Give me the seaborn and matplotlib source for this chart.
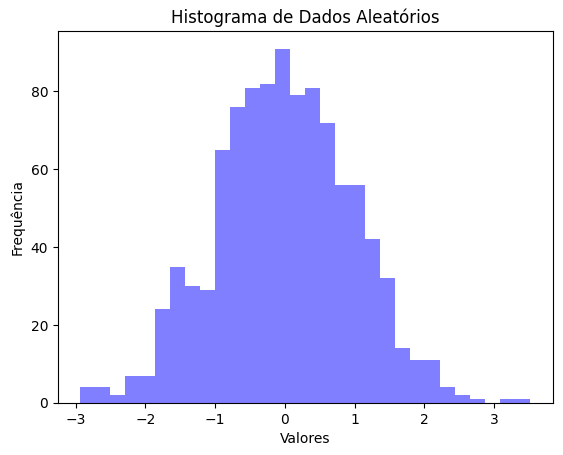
import numpy as np
import pandas as pd
import matplotlib
matplotlib.use('Agg')
import matplotlib.pyplot as plt
import seaborn as sns

# Bin range (30 bins) and counts
bin_start = -2.93
bin_end = 3.52
n_bins = 30
counts = [4, 4, 2, 7, 7, 24, 35, 30, 29, 65,
          76, 81, 82, 91, 79, 81, 72, 56, 56, 42,
          32, 14, 11, 11, 4, 2, 1, 0, 1, 1]

edges = np.linspace(bin_start, bin_end, n_bins + 1)
df = pd.DataFrame({'valor': (edges[:-1] + edges[1:]) / 2, 'freq': counts})

fig, ax = plt.subplots(figsize=(5.63, 4.55), dpi=100)
fig.subplots_adjust(left=0.103, right=0.982, top=0.932, bottom=0.1145)

sns.histplot(data=df, x='valor', weights='freq', bins=n_bins,
             binrange=(bin_start, bin_end), color='blue', alpha=0.5,
             linewidth=0, ax=ax)

ax.set_title('Histograma de Dados Aleatórios')
ax.set_xlabel('Valores')
ax.set_ylabel('Frequência')

fig.savefig('out.png', dpi=100)
